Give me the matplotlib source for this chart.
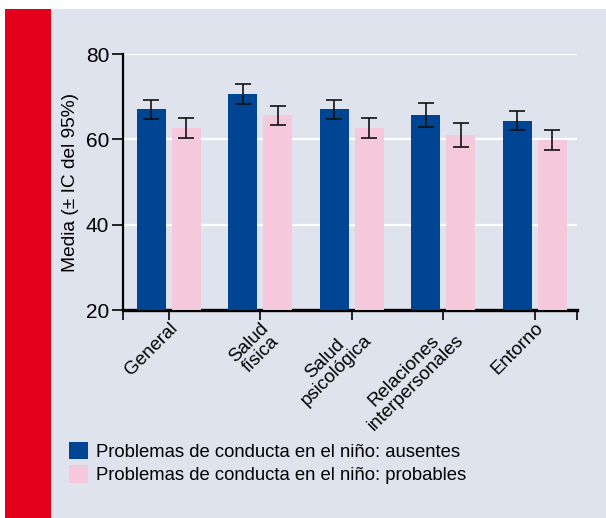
import matplotlib
matplotlib.use("Agg")
import matplotlib.pyplot as plt
import numpy as np
from matplotlib.patches import Rectangle, Patch

plt.rcParams['font.family'] = ['Liberation Sans', 'DejaVu Sans']

categories = ["General", "Salud\nfísica", "Salud\npsicológica",
              "Relaciones\ninterpersonales", "Entorno"]
ausentes = [67.0, 70.6, 67.0, 65.6, 64.4]
ausentes_ci = [2.3, 2.3, 2.3, 2.8, 2.3]
probables = [62.6, 65.6, 62.7, 61.0, 59.9]
probables_ci = [2.3, 2.3, 2.3, 2.8, 2.3]
series_labels = ["Problemas de conducta en el niño: ausentes",
                 "Problemas de conducta en el niño: probables"]
yticks = [20, 40, 60, 80]

BLUE = "#004494"
PINK = "#F5C8DC"
PANEL = "#DFE3ED"
RED = "#E2001A"

W, H = 606, 518
fig = plt.figure(figsize=(W / 100, H / 100), dpi=100, facecolor="white")

# decorative background: red strip + light panel
fig.patches.append(Rectangle((5 / W, 0), 46 / W, 1 - 9 / H, transform=fig.transFigure,
                             facecolor=RED, edgecolor="none", zorder=-10))
fig.patches.append(Rectangle((51 / W, 0), 1 - 51 / W, 1 - 9 / H, transform=fig.transFigure,
                             facecolor=PANEL, edgecolor="none", zorder=-10))

ax = fig.add_axes([123 / W, 1 - 310 / H, (577 - 123) / W, (310 - 54) / H])
ax.set_facecolor("none")

x = np.arange(len(categories))
bw = 0.317
off = 0.191
err_kw = dict(ecolor="#111111", elinewidth=1.2, capthick=1.2)
ax.bar(x - off, ausentes, bw, color=BLUE, yerr=ausentes_ci, capsize=5.5,
       error_kw=err_kw, zorder=3)
ax.bar(x + off, probables, bw, color=PINK, yerr=probables_ci, capsize=5.5,
       error_kw=err_kw, zorder=3)

ax.set_ylim(20, 80)
ax.set_xlim(-0.5, 4.46)
ax.set_yticks(yticks)
for v in yticks[1:]:
    ax.axhline(v, color="white", lw=1.6, zorder=1)

for s in ["top", "right"]:
    ax.spines[s].set_visible(False)
ax.spines["bottom"].set_linewidth(2.4)
ax.spines["left"].set_linewidth(1.6)
ax.spines["left"].set_bounds(20, 80)

ax.set_xticks(x)
ax.set_xticklabels(categories, rotation=45, ha="right", va="top",
                   rotation_mode="anchor", multialignment="center", fontsize=13.5,
                   linespacing=0.95)
ax.set_xticks([-0.5, 4.46], minor=True)
ax.tick_params(axis="x", which="both", length=7, width=1.4, color="#222222", pad=0)
ax.tick_params(axis="y", length=8, width=1.4, color="#222222", labelsize=15, pad=2)

ax.set_ylabel("Media (± IC del 95%)", fontsize=13.8, labelpad=5)

handles = [Patch(facecolor=BLUE, edgecolor="none"), Patch(facecolor=PINK, edgecolor="none")]
fig.legend(handles, series_labels, loc="upper left", bbox_to_anchor=(69 / W, 1 - 442 / H),
           frameon=False, fontsize=13.3, handlelength=1.05, handleheight=1.05,
           handletextpad=0.4, labelspacing=0.25, borderaxespad=0, borderpad=0)

fig.savefig("out.png", dpi=100, facecolor="white")
